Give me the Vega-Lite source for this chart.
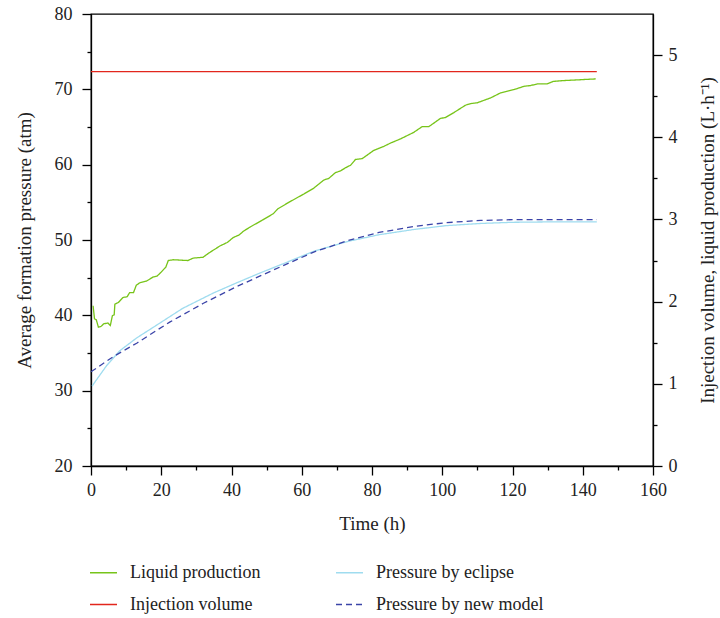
{
  "$schema": "https://vega.github.io/schema/vega-lite/v6.json",
  "width": 562,
  "height": 452,
  "autosize": {"type": "none"},
  "padding": {"left": 91, "top": 14, "right": 67, "bottom": 152},
  "background": "white",
  "config": {
    "font": "Liberation Serif",
    "view": {"stroke": "black", "strokeWidth": 1.3},
    "axis": {
      "domainColor": "black", "domainWidth": 1.3, "tickColor": "black", "tickWidth": 1.3,
      "labelColor": "#222", "labelFont": "Liberation Serif", "labelFontSize": 18,
      "titleFont": "Liberation Serif", "titleFontSize": 19, "titleFontWeight": "normal", "titleColor": "#222",
      "grid": false, "labelOverlap": false, "labelPadding": 4, "labelFlush": false
    },
    "line": {"strokeWidth": 1.3}
  },
  "datasets": {
    "pressure": [
      {"t": 0.3, "p": 30.6, "s": "Pressure by eclipse"},
      {"t": 1.5, "p": 31.4, "s": "Pressure by eclipse"},
      {"t": 4.4, "p": 33.3, "s": "Pressure by eclipse"},
      {"t": 8.2, "p": 35.3, "s": "Pressure by eclipse"},
      {"t": 13, "p": 37.0, "s": "Pressure by eclipse"},
      {"t": 17.7, "p": 38.4, "s": "Pressure by eclipse"},
      {"t": 26, "p": 40.9, "s": "Pressure by eclipse"},
      {"t": 35, "p": 43.0, "s": "Pressure by eclipse"},
      {"t": 41.4, "p": 44.3, "s": "Pressure by eclipse"},
      {"t": 48, "p": 45.6, "s": "Pressure by eclipse"},
      {"t": 55, "p": 46.9, "s": "Pressure by eclipse"},
      {"t": 63.4, "p": 48.5, "s": "Pressure by eclipse"},
      {"t": 73, "p": 49.8, "s": "Pressure by eclipse"},
      {"t": 82, "p": 50.7, "s": "Pressure by eclipse"},
      {"t": 92, "p": 51.4, "s": "Pressure by eclipse"},
      {"t": 101, "p": 51.9, "s": "Pressure by eclipse"},
      {"t": 111, "p": 52.2, "s": "Pressure by eclipse"},
      {"t": 120, "p": 52.35, "s": "Pressure by eclipse"},
      {"t": 130, "p": 52.4, "s": "Pressure by eclipse"},
      {"t": 144, "p": 52.4, "s": "Pressure by eclipse"},
      {"t": 0, "p": 32.5, "s": "Pressure by new model"},
      {"t": 6.3, "p": 34.5, "s": "Pressure by new model"},
      {"t": 13, "p": 36.3, "s": "Pressure by new model"},
      {"t": 22.4, "p": 39.1, "s": "Pressure by new model"},
      {"t": 32, "p": 41.6, "s": "Pressure by new model"},
      {"t": 41.4, "p": 43.8, "s": "Pressure by new model"},
      {"t": 54.7, "p": 46.6, "s": "Pressure by new model"},
      {"t": 63.4, "p": 48.4, "s": "Pressure by new model"},
      {"t": 73, "p": 49.9, "s": "Pressure by new model"},
      {"t": 82, "p": 51.0, "s": "Pressure by new model"},
      {"t": 92, "p": 51.8, "s": "Pressure by new model"},
      {"t": 101, "p": 52.3, "s": "Pressure by new model"},
      {"t": 111, "p": 52.6, "s": "Pressure by new model"},
      {"t": 120, "p": 52.7, "s": "Pressure by new model"},
      {"t": 144, "p": 52.7, "s": "Pressure by new model"}
    ],
    "flow": [
      {"t": 0, "v": 4.8, "s": "Injection volume"},
      {"t": 144, "v": 4.8, "s": "Injection volume"},
      {"t": 0.6, "v": 1.95, "s": "Liquid production"},
      {"t": 1.0, "v": 1.79, "s": "Liquid production"},
      {"t": 1.5, "v": 1.78, "s": "Liquid production"},
      {"t": 2.1, "v": 1.69, "s": "Liquid production"},
      {"t": 2.9, "v": 1.70, "s": "Liquid production"},
      {"t": 3.6, "v": 1.73, "s": "Liquid production"},
      {"t": 4.8, "v": 1.74, "s": "Liquid production"},
      {"t": 5.5, "v": 1.71, "s": "Liquid production"},
      {"t": 6.1, "v": 1.83, "s": "Liquid production"},
      {"t": 6.6, "v": 1.84, "s": "Liquid production"},
      {"t": 6.8, "v": 1.97, "s": "Liquid production"},
      {"t": 7.8, "v": 1.99, "s": "Liquid production"},
      {"t": 9.1, "v": 2.05, "s": "Liquid production"},
      {"t": 10.3, "v": 2.06, "s": "Liquid production"},
      {"t": 11.0, "v": 2.11, "s": "Liquid production"},
      {"t": 12.1, "v": 2.11, "s": "Liquid production"},
      {"t": 12.9, "v": 2.20, "s": "Liquid production"},
      {"t": 13.9, "v": 2.23, "s": "Liquid production"},
      {"t": 15.8, "v": 2.25, "s": "Liquid production"},
      {"t": 17.7, "v": 2.30, "s": "Liquid production"},
      {"t": 18.8, "v": 2.31, "s": "Liquid production"},
      {"t": 20.0, "v": 2.36, "s": "Liquid production"},
      {"t": 21.3, "v": 2.42, "s": "Liquid production"},
      {"t": 22.0, "v": 2.50, "s": "Liquid production"},
      {"t": 23.4, "v": 2.51, "s": "Liquid production"},
      {"t": 27.6, "v": 2.50, "s": "Liquid production"},
      {"t": 29.1, "v": 2.53, "s": "Liquid production"},
      {"t": 31.9, "v": 2.54, "s": "Liquid production"},
      {"t": 33.5, "v": 2.59, "s": "Liquid production"},
      {"t": 36.8, "v": 2.68, "s": "Liquid production"},
      {"t": 38.8, "v": 2.72, "s": "Liquid production"},
      {"t": 40.5, "v": 2.78, "s": "Liquid production"},
      {"t": 42.1, "v": 2.81, "s": "Liquid production"},
      {"t": 43.5, "v": 2.86, "s": "Liquid production"},
      {"t": 45.4, "v": 2.91, "s": "Liquid production"},
      {"t": 48.7, "v": 2.99, "s": "Liquid production"},
      {"t": 51.9, "v": 3.07, "s": "Liquid production"},
      {"t": 53.2, "v": 3.13, "s": "Liquid production"},
      {"t": 56.8, "v": 3.22, "s": "Liquid production"},
      {"t": 60.6, "v": 3.31, "s": "Liquid production"},
      {"t": 63.4, "v": 3.38, "s": "Liquid production"},
      {"t": 66.3, "v": 3.48, "s": "Liquid production"},
      {"t": 67.7, "v": 3.50, "s": "Liquid production"},
      {"t": 69.6, "v": 3.57, "s": "Liquid production"},
      {"t": 71.0, "v": 3.59, "s": "Liquid production"},
      {"t": 72.5, "v": 3.63, "s": "Liquid production"},
      {"t": 73.9, "v": 3.66, "s": "Liquid production"},
      {"t": 75.3, "v": 3.73, "s": "Liquid production"},
      {"t": 77.2, "v": 3.74, "s": "Liquid production"},
      {"t": 80.5, "v": 3.84, "s": "Liquid production"},
      {"t": 83.4, "v": 3.89, "s": "Liquid production"},
      {"t": 85.3, "v": 3.93, "s": "Liquid production"},
      {"t": 88.1, "v": 3.98, "s": "Liquid production"},
      {"t": 91.9, "v": 4.06, "s": "Liquid production"},
      {"t": 94.3, "v": 4.13, "s": "Liquid production"},
      {"t": 96.2, "v": 4.13, "s": "Liquid production"},
      {"t": 99.5, "v": 4.23, "s": "Liquid production"},
      {"t": 100.9, "v": 4.24, "s": "Liquid production"},
      {"t": 103.3, "v": 4.30, "s": "Liquid production"},
      {"t": 106.6, "v": 4.39, "s": "Liquid production"},
      {"t": 108.1, "v": 4.41, "s": "Liquid production"},
      {"t": 110.0, "v": 4.42, "s": "Liquid production"},
      {"t": 113.8, "v": 4.48, "s": "Liquid production"},
      {"t": 116.6, "v": 4.54, "s": "Liquid production"},
      {"t": 120.4, "v": 4.58, "s": "Liquid production"},
      {"t": 123.3, "v": 4.62, "s": "Liquid production"},
      {"t": 125.2, "v": 4.63, "s": "Liquid production"},
      {"t": 127.1, "v": 4.65, "s": "Liquid production"},
      {"t": 129.9, "v": 4.65, "s": "Liquid production"},
      {"t": 131.6, "v": 4.68, "s": "Liquid production"},
      {"t": 134.6, "v": 4.69, "s": "Liquid production"},
      {"t": 143.7, "v": 4.71, "s": "Liquid production"}
    ]
  },
  "encoding": {
    "x": {
      "field": "t", "type": "quantitative",
      "scale": {"domain": [0, 160], "nice": false, "zero": false},
      "axis": {
        "title": "Time (h)",
        "values": [0, 10, 20, 30, 40, 50, 60, 70, 80, 90, 100, 110, 120, 130, 140, 150, 160],
        "labelExpr": "datum.value % 20 === 0 ? datum.label : ''",
        "tickSize": {"condition": {"test": "datum.value % 20 === 0", "value": 9}, "value": 4},
        "labelPadding": 6,
        "labelFlush": false,
        "titlePadding": 15
      }
    },
    "color": {
      "field": "s", "type": "nominal",
      "scale": {
        "domain": ["Liquid production", "Pressure by eclipse", "Injection volume", "Pressure by new model"],
        "range": ["#77c41a", "#9fdcef", "#e2261c", "#3b44a8"]
      },
      "legend": {
        "title": null, "orient": "none", "legendX": -2, "legendY": 544,
        "columns": 2, "direction": "horizontal", "symbolType": "stroke", "symbolSize": 729,
        "symbolStrokeWidth": 1.3, "labelFontSize": 18, "labelFont": "Liberation Serif", "labelColor": "#222",
        "columnPadding": 72, "rowPadding": 8, "gridAlign": "each", "labelOffset": 12, "labelLimit": 0
      }
    },
    "strokeDash": {
      "field": "s", "type": "nominal",
      "scale": {
        "domain": ["Liquid production", "Pressure by eclipse", "Injection volume", "Pressure by new model"],
        "range": [[1, 0], [1, 0], [1, 0], [6, 4]]
      },
      "legend": {
        "title": null, "orient": "none", "legendX": -2, "legendY": 544,
        "columns": 2, "direction": "horizontal", "symbolType": "stroke", "symbolSize": 729,
        "symbolStrokeWidth": 1.3, "labelFontSize": 18, "labelFont": "Liberation Serif", "labelColor": "#222",
        "columnPadding": 72, "rowPadding": 8, "gridAlign": "each", "labelOffset": 12, "labelLimit": 0
      }
    }
  },
  "layer": [
    {
      "data": {"name": "pressure"},
      "mark": {"type": "line", "strokeWidth": 1.3},
      "encoding": {
        "y": {
          "field": "p", "type": "quantitative",
          "scale": {"domain": [20, 80], "nice": false, "zero": false},
          "axis": {
            "orient": "left",
            "title": "Average formation pressure (atm)",
            "values": [20, 25, 30, 35, 40, 45, 50, 55, 60, 65, 70, 75, 80],
            "labelExpr": "datum.value % 10 === 0 ? datum.label : ''",
            "tickSize": {"condition": {"test": "datum.value % 10 === 0", "value": 9}, "value": 4},
            "labelPadding": 10,
            "titlePadding": 20
          }
        }
      }
    },
    {
      "data": {"name": "flow"},
      "mark": {"type": "line", "strokeWidth": 1.3},
      "encoding": {
        "y": {
          "field": "v", "type": "quantitative",
          "scale": {"domain": [0, 5.5], "nice": false, "zero": false},
          "axis": {
            "orient": "right",
            "title": "Injection volume, liquid production (L·h⁻¹)",
            "titleAngle": 270,
            "values": [0, 0.5, 1, 1.5, 2, 2.5, 3, 3.5, 4, 4.5, 5],
            "labelExpr": "datum.value % 1 === 0 ? format(datum.value, 'd') : ''",
            "tickSize": {"condition": {"test": "datum.value % 1 === 0", "value": 9}, "value": 4},
            "labelPadding": 6,
            "titlePadding": 40
          }
        }
      }
    }
  ],
  "resolve": {"scale": {"y": "independent"}}
}
